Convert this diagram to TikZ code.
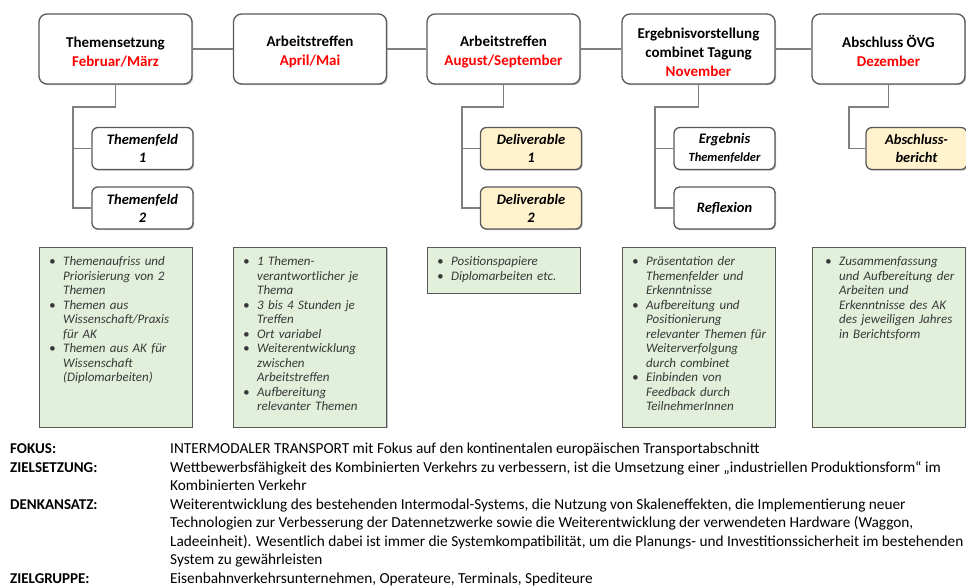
\documentclass[tikz,border=0pt]{standalone}
\usepackage{fontspec}
\setmainfont{Carlito}
\usetikzlibrary{shadows}
\definecolor{boxline}{HTML}{595959}
\definecolor{connline}{HTML}{7F7F7F}
\definecolor{greenfill}{HTML}{E2EFDA}
\definecolor{yellowfill}{HTML}{FFF2CC}
\definecolor{monthred}{HTML}{FF0000}
\definecolor{bodytext}{HTML}{383838}
\newcommand{\bitem}[1]{\par\noindent\hangindent=14pt\hangafter=1\makebox[14pt][l]{\textbullet}#1\par}
\newcommand{\mon}[1]{{\color{monthred}#1}}
\newcommand{\tstrut}{\rule{0pt}{17pt}}
\begin{document}
\begin{tikzpicture}[x=1pt,y=-1pt,
  shad/.style={drop shadow={shadow xshift=1.2pt,shadow yshift=-1.2pt,fill=black,opacity=0.25}},
  topbox/.style={draw=boxline, line width=1.3pt, rounded corners=8pt, fill=white, shad,
    minimum width=153pt, minimum height=70pt, align=center, inner sep=2pt,
    font=\fontsize{15}{19}\selectfont\bfseries},
  childbox/.style={draw=boxline, line width=1.3pt, rounded corners=6pt, fill=white, shad,
    minimum width=101pt, minimum height=42pt, align=center, inner sep=1pt,
    font=\fontsize{14.5}{18}\selectfont\bfseries\itshape},
  delivbox/.style={childbox, fill=yellowfill},
  notebox/.style={draw=boxline, line width=1pt, fill=greenfill, shad, minimum width=153pt, inner sep=0pt},
  notetext/.style={anchor=north west, text width=134pt, inner sep=0pt,
    font=\fontsize{13}{14.5}\selectfont\itshape\raggedright, text=bodytext},
  connstyle/.style={draw=connline, line width=1.3pt},
  lbltext/.style={anchor=base west, inner sep=0pt, font=\fontsize{15}{18.5}\selectfont\bfseries},
  valtext/.style={anchor=base west, inner sep=0pt, font=\fontsize{15.3}{18.5}\selectfont}
]
\useasboundingbox (0,0) rectangle (966,586);

% top row
\node[topbox] (t1) at (115.5,49) {\tstrut Themensetzung\\\mon{Februar/März}};
\node[topbox] (t2) at (310,49) {\tstrut Arbeitstreffen\\\mon{April/Mai}};
\node[topbox] (t3) at (503.5,49) {\tstrut Arbeitstreffen\\\mon{August/September}};
\node[topbox] (t4) at (698.5,49) {\tstrut Ergebnisvorstellung\\combinet Tagung\\\mon{November}};
\node[topbox] (t5) at (888.5,49) {\tstrut Abschluss ÖVG\\\mon{Dezember}};

\draw[connstyle] (t1.east) -- (t2.west);
\draw[connstyle] (t2.east) -- (t3.west);
\draw[connstyle] (t3.east) -- (t4.west);
\draw[connstyle] (t4.east) -- (t5.west);

% children
\node[childbox] (c1a) at (142.5,148.5) {Themenfeld\\1};
\node[childbox] (c1b) at (142.5,208) {Themenfeld\\2};
\node[delivbox] (c3a) at (531,148.5) {Deliverable\\1};
\node[delivbox] (c3b) at (531,208) {Deliverable\\2};
\node[childbox] (c4a) at (724.5,148.5) {Ergebnis\\{\fontsize{12.5}{14}\selectfont Themenfelder}};
\node[childbox] (c4b) at (724.5,208) {Reflexion};
\node[delivbox] (c5a) at (916.5,148.5) {Abschluss-\\bericht};

\coordinate (v1) at (73,107);
\coordinate (v3) at (462,107);
\coordinate (v4) at (655,107);
\coordinate (v5) at (849,107);
\draw[connstyle] (t1.south) |- (v1) |- (c1b.west);
\draw[connstyle] (v1) |- (c1a.west);
\draw[connstyle] (t3.south) |- (v3) |- (c3b.west);
\draw[connstyle] (v3) |- (c3a.west);
\draw[connstyle] (t4.south) |- (v4) |- (c4b.west);
\draw[connstyle] (v4) |- (c4a.west);
\draw[connstyle] (t5.south) |- (v5) |- (c5a.west);

% green note boxes
\node[notebox, minimum height=180pt] (g1) at (115.5,337) {};
\node[notebox, minimum height=180pt] (g2) at (310,337) {};
\node[notebox, minimum height=46pt] (g3) at (503.5,270) {};
\node[notebox, minimum height=180pt] (g4) at (698.5,337) {};
\node[notebox, minimum height=180pt] (g5) at (888.5,337) {};

\node[notetext] (n1) at (49,251) {%
\bitem{Themenaufriss und\newline Priorisierung von 2\newline Themen}%
\bitem{Themen aus\newline Wissenschaft/Praxis\newline für AK}%
\bitem{Themen aus AK für\newline Wissenschaft\newline (Diplomarbeiten)}};
\node[notetext] (n2) at (243,251) {%
\bitem{1 Themen-\newline verantwortlicher je\newline Thema}%
\bitem{3 bis 4 Stunden je\newline Treffen}%
\bitem{Ort variabel}%
\bitem{Weiterentwicklung\newline zwischen\newline Arbeitstreffen}%
\bitem{Aufbereitung\newline relevanter Themen}};
\node[notetext] (n3) at (437,251) {%
\bitem{Positionspapiere}%
\bitem{Diplomarbeiten etc.}};
\node[notetext] (n4) at (632,251) {%
\bitem{Präsentation der\newline Themenfelder und\newline Erkenntnisse}%
\bitem{Aufbereitung und\newline Positionierung\newline relevanter Themen für\newline Weiterverfolgung\newline durch combinet}%
\bitem{Einbinden von\newline Feedback durch\newline TeilnehmerInnen}};
\node[notetext] (n5) at (825,251) {%
\bitem{Zusammenfassung\newline und Aufbereitung der\newline Arbeiten und\newline Erkenntnisse des AK\newline des jeweiligen Jahres\newline in Berichtsform}};

% bottom text
\node[lbltext] (l1) at (10,453) {FOKUS:};
\node[valtext] (f1) at (170,453) {INTERMODALER TRANSPORT mit Fokus auf den kontinentalen europäischen Transportabschnitt};
\node[lbltext] (l2) at (10,472) {ZIELSETZUNG:};
\node[valtext] (z1) at (170,472) {Wettbewerbsfähigkeit des Kombinierten Verkehrs zu verbessern, ist die Umsetzung einer „industriellen Produktionsform“ im};
\node[valtext] (z2) at (170,490.5) {Kombinierten Verkehr};
\node[lbltext] (l3) at (10,509) {DENKANSATZ:};
\node[valtext] (d1) at (170,509) {Weiterentwicklung des bestehenden Intermodal-Systems, die Nutzung von Skaleneffekten, die Implementierung neuer};
\node[valtext] (d2) at (170,527.5) {Technologien zur Verbesserung der Datennetzwerke sowie die Weiterentwicklung der verwendeten Hardware (Waggon,};
\node[valtext] (d3) at (170,546) {Ladeeinheit). Wesentlich dabei ist immer die Systemkompatibilität, um die Planungs- und Investitionssicherheit im bestehenden};
\node[valtext] (d4) at (170,564.5) {System zu gewährleisten};
\node[lbltext] (l4) at (10,583) {ZIELGRUPPE:};
\node[valtext] (zg) at (170,583) {Eisenbahnverkehrsunternehmen, Operateure, Terminals, Spediteure};
\end{tikzpicture}
\end{document}
